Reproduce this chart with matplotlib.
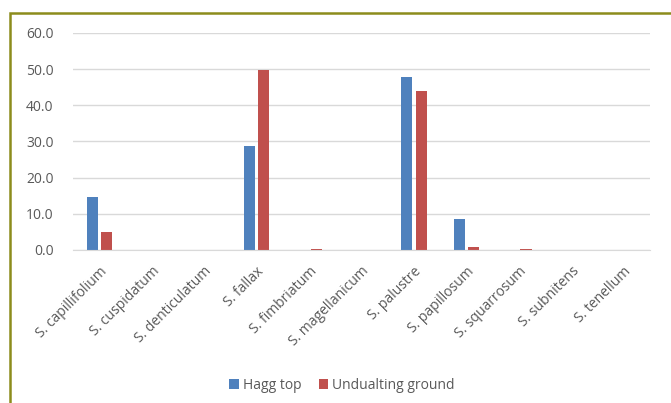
import matplotlib
matplotlib.use('Agg')
import matplotlib.pyplot as plt
import numpy as np
from matplotlib.patches import Rectangle

species = ['S. capillifolium', 'S. cuspidatum', 'S. denticulatum', 'S. fallax',
           'S. fimbriatum', 'S. magellanicum', 'S. palustre', 'S. papillosum',
           'S. squarrosum', 'S. subnitens', 'S. tenellum']
hagg_top = [14.7, 0, 0, 28.7, 0, 0, 47.8, 8.5, 0, 0, 0]
undulating = [5.0, 0, 0, 49.7, 0.3, 0, 43.9, 0.8, 0.3, 0, 0]

plt.rcParams['font.family'] = ['Open Sans', 'DejaVu Sans']

fig = plt.figure(figsize=(6.71, 4.03), dpi=100)
# olive frame round the chart area
fig.patches.append(Rectangle((10 / 671, -0.05), 1.2, 1 - 13 / 403 + 0.05,
                             transform=fig.transFigure, fill=False,
                             edgecolor='#8c8c1c', linewidth=1.8))
ax = fig.add_axes([0.1088, 0.3797, 0.86, 0.5385])

x = np.arange(len(species))
w = 0.21
ax.bar(x - 0.135, hagg_top, w, color='#4f81bd', label='Hagg top')
ax.bar(x + 0.135, undulating, w, color='#c0504d', label='Undualting ground')

ax.set_ylim(0, 60)
ax.set_xlim(-0.5, len(species) - 0.5)
ax.set_yticks(np.arange(0, 61, 10))
ax.set_yticklabels([f'{v:.1f}' for v in np.arange(0, 61, 10)])
ax.yaxis.grid(True, color='#d9d9d9', linewidth=1)
ax.set_axisbelow(True)
for s in ['top', 'right', 'left']:
    ax.spines[s].set_visible(False)
ax.spines['bottom'].set_color('#d9d9d9')
ax.tick_params(axis='both', length=0, colors='#595959', labelsize=10)
ax.tick_params(axis='y', pad=14)
ax.set_xticks(x)
ax.set_xticklabels(species, rotation=45, ha='right', rotation_mode='anchor')
ax.tick_params(axis='x', pad=10)

fig.legend(loc='lower center', bbox_to_anchor=(0.51, -0.005), ncol=2, frameon=False,
           fontsize=10, handlelength=0.7, handleheight=0.7, columnspacing=1.2,
           handletextpad=0.3, labelcolor='#595959')

fig.savefig('out.png', dpi=100)
